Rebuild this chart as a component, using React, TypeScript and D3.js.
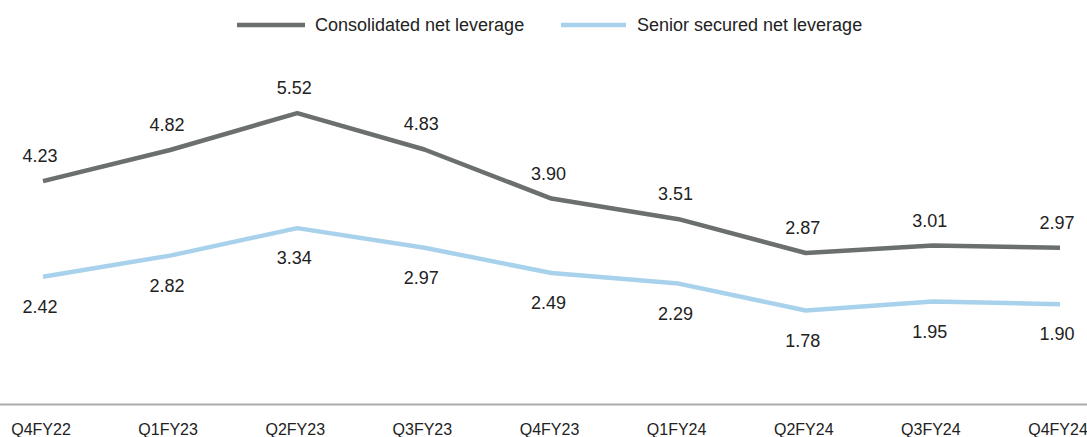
import { useMemo } from 'react';
import * as d3 from 'd3';

// quarters and leverage ratios
const quarters = ['Q4FY22', 'Q1FY23', 'Q2FY23', 'Q3FY23', 'Q4FY23', 'Q1FY24', 'Q2FY24', 'Q3FY24', 'Q4FY24'];
const consolidated = [4.23, 4.82, 5.52, 4.83, 3.90, 3.51, 2.87, 3.01, 2.97];
const seniorSecured = [2.42, 2.82, 3.34, 2.97, 2.49, 2.29, 1.78, 1.95, 1.90];

const seriesNames = ['Consolidated net leverage', 'Senior secured net leverage'];
const seriesColors = ['#6b706d', '#a8d2ec'];

const width = 1087;
const height = 437;
const font = 'Liberation Sans, Arial, sans-serif';

const App = () => {
  const x = useMemo(() => d3.scalePoint<string>().domain(quarters).range([43, 1060]), []);
  const y = useMemo(() => d3.scaleLinear().domain([0, 6]).range([404.5, 87.7]), []);

  const line = d3.line<number>()
    .x((_, i) => x(quarters[i]) as number)
    .y((d) => y(d))
    .curve(d3.curveLinear);

  const series = [consolidated, seniorSecured];

  return (
    <svg width={width} height={height} style={{ position: 'absolute', left: 0, top: 0, background: '#fff' }}>
      {/* legend */}
      <g fontFamily={font} fontSize={18} fill="#222">
        <line x1={237} x2={305} y1={25} y2={25} stroke={seriesColors[0]} strokeWidth={4.5} />
        <text x={315} y={25} dominantBaseline="central">{seriesNames[0]}</text>
        <line x1={561} x2={626} y1={25} y2={25} stroke={seriesColors[1]} strokeWidth={4.5} />
        <text x={637} y={25} dominantBaseline="central">{seriesNames[1]}</text>
      </g>

      {/* baseline */}
      <line x1={0} x2={width} y1={y(0)} y2={y(0)} stroke="#ababab" strokeWidth={2} />

      {/* x axis labels */}
      <g fontFamily={font} fontSize={16} fill="#222" textAnchor="middle">
        {quarters.map((q) => (
          <text key={q} x={(x(q) as number) - 2} y={429} dominantBaseline="central">{q}</text>
        ))}
      </g>

      {/* lines */}
      {series.map((s, i) => (
        <path key={i} d={line(s) || ''} fill="none" stroke={seriesColors[i]} strokeWidth={4.5} strokeLinejoin="round" />
      ))}

      {/* value labels: consolidated above, senior below */}
      <g fontFamily={font} fontSize={18} fill="#222" textAnchor="middle">
        {consolidated.map((v, i) => (
          <text key={'c' + i} x={(x(quarters[i]) as number) - 3} y={y(v) - 25} dominantBaseline="central">{v.toFixed(2)}</text>
        ))}
        {seniorSecured.map((v, i) => (
          <text key={'s' + i} x={(x(quarters[i]) as number) - 3} y={y(v) + 30} dominantBaseline="central">{v.toFixed(2)}</text>
        ))}
      </g>
    </svg>
  );
};

export default App;
